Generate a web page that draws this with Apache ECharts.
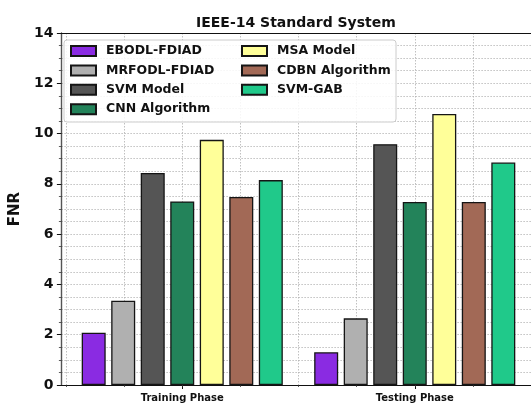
<!DOCTYPE html>
<html>
<head>
<meta charset="utf-8">
<title>IEEE-14 Standard System</title>
<script src="https://cdn.jsdelivr.net/npm/echarts@6/dist/echarts.min.js"></script>
<style>
  html, body { margin: 0; padding: 0; background: #ffffff; }
  #chart { width: 531px; height: 403px; }
</style>
</head>
<body>
<div id="chart"></div>
<script>
// Phases on the x axis
const phases = ['Training Phase', 'Testing Phase'];
// Detection methods, in bar order
const methods = ['EBODL-FDIAD', 'MRFODL-FDIAD', 'SVM Model', 'CNN Algorithm',
                 'MSA Model', 'CDBN Algorithm', 'SVM-GAB'];
// False negative rate per method
const trainingFNR = [2.08, 3.35, 8.43, 7.30, 9.75, 7.48, 8.15];
const testingFNR  = [1.30, 2.65, 9.58, 7.28, 10.78, 7.28, 8.85];
// y axis range and step
const yMin = 0, yMax = 14, yStep = 2;

const palette = ['#8a2be2', '#b0b0b0', '#555555', '#23835a',
                 '#ffff99', '#a26956', '#20c98a'];

const FONT = 'DejaVu Sans';
const gridDots = { color: '#b0b0b0', width: 0.8, type: [1.5, 1.5] };
const plotTop = 33, plotBottom = 18;

const chart = echarts.init(document.getElementById('chart'), null, { renderer: 'canvas' });

const series = methods.map((name, i) => ({
  name: name,
  type: 'bar',
  xAxisIndex: 1,
  yAxisIndex: 1,
  barWidth: 24,
  barGap: '23%',
  itemStyle: { color: palette[i], borderColor: '#151515', borderWidth: 1.3 },
  data: [trainingFNR[i], testingFNR[i]]
}));

const legendText = { fontFamily: FONT, fontWeight: 'bold', fontSize: 12.5, color: '#111',
                     lineHeight: 14, padding: [0, 0, 0, 5] };

chart.setOption({
  animation: false,
  title: {
    text: 'IEEE-14 Standard System',
    left: 191, top: 11,
    textStyle: { fontFamily: FONT, fontWeight: 'bold', fontSize: 14, color: '#111' }
  },
  graphic: [{
    type: 'rect', z: 3,
    shape: { x: 64, y: 40, width: 332, height: 82, r: 3 },
    style: { fill: 'rgba(255,255,255,0.85)', stroke: '#cccccc', lineWidth: 1 }
  }],
  legend: [{
    data: methods.slice(0, 4),
    orient: 'vertical', left: 70, top: 44, padding: 0,
    itemWidth: 25, itemHeight: 10, itemGap: 5.4,
    icon: 'rect', selectedMode: false,
    textStyle: legendText
  }, {
    data: methods.slice(4),
    orient: 'vertical', left: 241, top: 44, padding: 0,
    itemWidth: 25, itemHeight: 10, itemGap: 5.4,
    icon: 'rect', selectedMode: false,
    textStyle: legendText
  }],
  grid: [
    // frame, y axis and horizontal grid
    { left: 58, right: -3, top: plotTop, bottom: plotBottom },
    // bars and phase labels
    { left: 66, right: 0, top: plotTop, bottom: plotBottom },
    // vertical grid lines
    { left: 66, right: 0, top: plotTop, bottom: plotBottom }
  ],
  xAxis: [{
    gridIndex: 0, type: 'value', min: 0, max: 1, position: 'bottom',
    axisLine: { show: true, lineStyle: { color: '#111', width: 1.2 } },
    axisTick: { show: false }, axisLabel: { show: false }, splitLine: { show: false }
  }, {
    gridIndex: 1, type: 'category', data: phases, position: 'bottom',
    axisLine: { show: false },
    axisTick: { show: true, alignWithLabel: true, length: 4, lineStyle: { color: '#111', width: 1 } },
    axisLabel: { fontFamily: FONT, fontWeight: 'bold', fontSize: 10, color: '#111', margin: 8 },
    splitLine: { show: false }
  }, {
    gridIndex: 2, type: 'value', min: -0.5, max: 1.5, interval: 0.25, position: 'bottom',
    axisLine: { show: false },
    axisTick: { show: true, length: 2, lineStyle: { color: '#333', width: 0.8 } },
    axisLabel: { show: false },
    splitLine: { show: true, lineStyle: gridDots }
  }, {
    gridIndex: 0, type: 'value', min: 0, max: 1, position: 'top',
    axisLine: { show: true, lineStyle: { color: '#111', width: 1.2 } },
    axisTick: { show: false }, axisLabel: { show: false }, splitLine: { show: false }
  }],
  yAxis: [{
    gridIndex: 0, type: 'value', min: yMin, max: yMax, interval: yStep,
    name: 'FNR', nameLocation: 'middle', nameGap: 30,
    nameTextStyle: { fontFamily: FONT, fontWeight: 'bold', fontSize: 15, color: '#111' },
    axisLine: { show: true, lineStyle: { color: '#555', width: 1.4 } },
    axisTick: { show: true, length: 4.5, lineStyle: { color: '#111', width: 1 } },
    minorTick: { show: true, splitNumber: 4, length: 2.5, lineStyle: { color: '#333', width: 0.8 } },
    axisLabel: { fontFamily: FONT, fontWeight: 'bold', fontSize: 14, color: '#111', margin: 8 },
    splitLine: { show: true, lineStyle: gridDots },
    minorSplitLine: { show: true, lineStyle: gridDots }
  }, {
    gridIndex: 1, type: 'value', min: yMin, max: yMax, show: false
  }, {
    gridIndex: 2, type: 'value', min: yMin, max: yMax, show: false
  }],
  series: series
});
</script>
</body>
</html>
